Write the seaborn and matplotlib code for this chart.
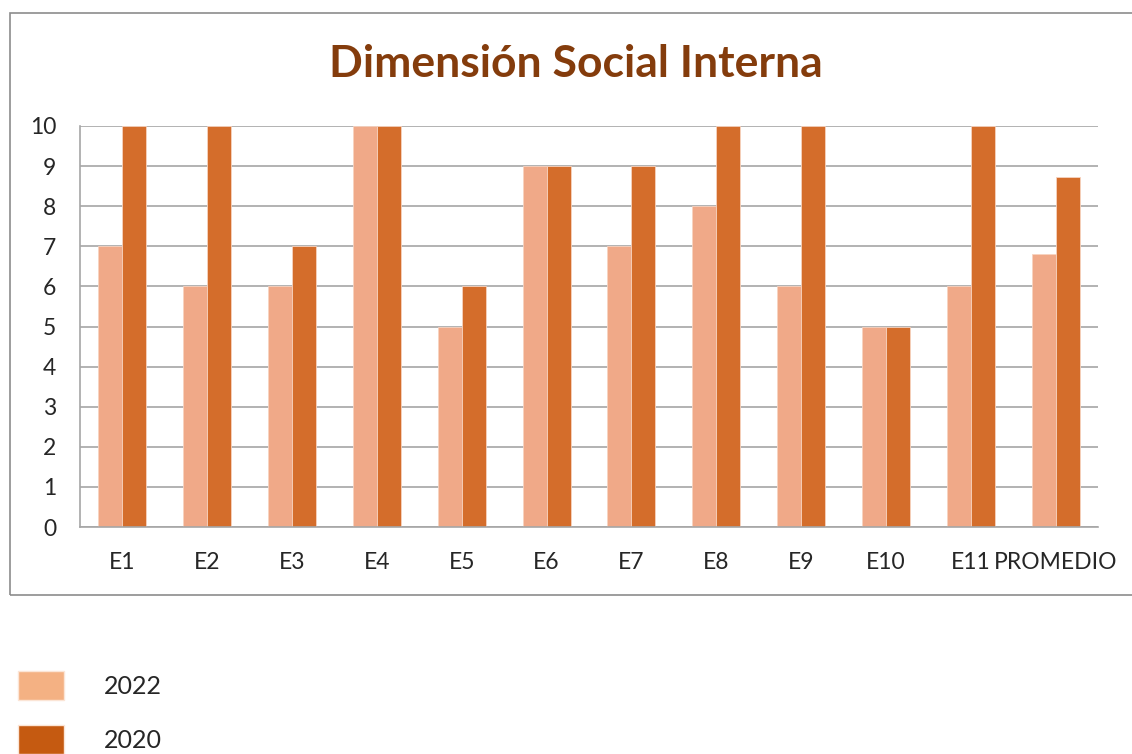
import pandas as pd
import matplotlib.pyplot as plt
import seaborn as sns
from matplotlib.patches import Patch, Rectangle

categories = ["E1", "E2", "E3", "E4", "E5", "E6", "E7", "E8", "E9", "E10", "E11", "PROMEDIO"]
vals_2022 = [7, 6, 6, 10, 5, 9, 7, 8, 6, 5, 6, 6.82]
vals_2020 = [10, 10, 7, 10, 6, 9, 9, 10, 10, 5, 10, 8.73]
years = ["2022", "2020"]

bar_colors = {"2022": "#F0A988", "2020": "#D46D2B"}
legend_colors = {"2022": "#F4B183", "2020": "#C55A11"}

df = pd.DataFrame({
    "Categoria": categories * 2,
    "Valor": vals_2022 + vals_2020,
    "Año": ["2022"] * len(categories) + ["2020"] * len(categories),
})

sns.set_style("white")
plt.rcParams["font.family"] = ["Lato", "DejaVu Sans"]

fig = plt.figure(figsize=(11.32, 7.54), dpi=100)
ax = fig.add_axes([80 / 1132, 1 - 527 / 754, 1018 / 1132, 401 / 754])

sns.barplot(data=df, x="Categoria", y="Valor", hue="Año", hue_order=years,
            palette=bar_colors, width=0.565, ax=ax, legend=False,
            edgecolor="#F7D3C0", linewidth=0.6, saturation=1)

ax.set_ylim(0, 10)
ax.set_xlim(-0.5, len(categories) - 0.5)
ax.set_yticks(range(0, 11))
ax.yaxis.grid(True, color="#A6A6A6", linewidth=1.2)
ax.set_axisbelow(True)
ax.set_xlabel("")
ax.set_ylabel("")
ax.tick_params(axis="x", length=0, pad=18, labelsize=16.5)
ax.tick_params(axis="y", length=0, pad=17, labelsize=16.5)
for side in ["top", "right"]:
    ax.spines[side].set_visible(False)
for side in ["left", "bottom"]:
    ax.spines[side].set_color("#A6A6A6")
    ax.spines[side].set_linewidth(1.2)

fig.text(576 / 1132, 1 - 64 / 754, "Dimensión Social Interna", ha="center", va="center",
         fontsize=32, fontweight="bold", color="#843C0C")

# outer chart frame
fig.patches.append(Rectangle((10 / 1132, 1 - 595 / 754), 1.2, 582 / 754,
                             transform=fig.transFigure, fill=False,
                             edgecolor="#8C8C8C", linewidth=1.2))

handles = [Patch(facecolor=legend_colors[y], edgecolor="#FBE5D6", label=y) for y in years]
fig.legend(handles=handles, loc="upper left", bbox_to_anchor=(18 / 1132, 1 - 671 / 754),
           frameon=False, fontsize=18, handlelength=1.84, handleheight=1.4,
           handletextpad=1.6, labelspacing=1.0, borderpad=0, borderaxespad=0)

fig.savefig("out.png", dpi=100)
